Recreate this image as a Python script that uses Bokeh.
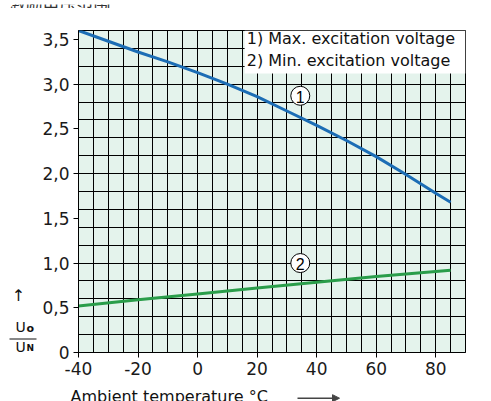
from bokeh.plotting import figure
from bokeh.models import (FixedTicker, Label, BoxAnnotation, Arrow, NormalHead,
                          Range1d, ColumnDataSource)
from bokeh.layouts import column, row
from bokeh.core.properties import value
from bokeh.embed import file_html
from bokeh.resources import INLINE
import numpy as np

# Output voltage ratio Uo/UN versus ambient temperature
temp_max = [-40, -30, -20, -10, 0, 10, 20, 30, 40, 50, 60, 70, 80, 85]
ratio_max = [3.60, 3.48, 3.36, 3.25, 3.13, 3.00, 2.86, 2.70, 2.54, 2.37, 2.19, 1.99, 1.78, 1.68]

temp_min = [-40, -20, 0, 20, 40, 60, 85]
ratio_min = [0.52, 0.59, 0.655, 0.72, 0.785, 0.85, 0.92]

x_ticks = [-40, -20, 0, 20, 40, 60, 80]
x_tick_labels = ["-40", "-20", "0", "20", "40", "60", "80"]
y_ticks = [0, 0.5, 1.0, 1.5, 2.0, 2.5, 3.0, 3.5]
y_tick_labels = ["0", "0,5", "1,0", "1,5", "2,0", "2,5", "3,0", "3,5"]

legend_lines = ["1) Max. excitation voltage", "2) Min. excitation voltage"]
curve_ids = ["1", "2"]
curve_id_x = [34.5, 34.5]
curve_id_y = [2.87, 1.0]

title_text = "激励电压范围"
x_caption = "Ambient temperature °C"

FONT = "DejaVu Sans"
BLUE = "#1c6db5"
GREEN = "#2a9d4a"
INK = "#111111"

W, H = 491, 401
TOP_H = 8          # strip holding the (cropped) title
LEFT_W = 37        # strip holding the y caption
BOTTOM_H = 16      # strip holding the x caption
MAIN_H = H - TOP_H - BOTTOM_H
FRAME_TOP, FRAME_BOTTOM = 30, 352   # page rows of the plotting area
BORDER_TOP = FRAME_TOP - TOP_H
BORDER_BOTTOM = TOP_H + MAIN_H - FRAME_BOTTOM


def text_strip(width, height, y0, y1, top=0, bottom=0):
    # blank figure whose data units are page pixels, y pointing down
    f = figure(width=width, height=height, output_backend="svg",
               toolbar_location=None, x_axis_type=None, y_axis_type=None,
               x_range=Range1d(0, width), y_range=Range1d(y1, y0),
               min_border_left=0, min_border_right=0,
               min_border_top=top, min_border_bottom=bottom,
               outline_line_color=None)
    f.grid.visible = False
    f.background_fill_color = "white"
    f.border_fill_color = "white"
    return f


# ---- main chart -----------------------------------------------------------
p = figure(width=W - LEFT_W, height=MAIN_H, output_backend="svg",
           toolbar_location=None,
           x_range=Range1d(-40, 90), y_range=Range1d(0, 3.6),
           min_border_left=78 - LEFT_W, min_border_right=26,
           min_border_top=BORDER_TOP, min_border_bottom=BORDER_BOTTOM)

p.background_fill_color = "#e4f3ec"
p.border_fill_color = "white"
p.outline_line_color = "black"
p.outline_line_width = 1

# grid: 5 degree / 0.2 steps
p.xgrid.ticker = FixedTicker(ticks=list(np.arange(-40, 91, 5)))
p.ygrid.ticker = FixedTicker(ticks=list(np.round(np.arange(0, 3.61, 0.2), 2)))
for g in (p.xgrid, p.ygrid):
    g.grid_line_color = "black"
    g.grid_line_width = 1
    g.grid_line_alpha = 1

p.xaxis.ticker = FixedTicker(ticks=x_ticks)
p.xaxis.major_label_overrides = dict(zip(x_ticks, x_tick_labels))
p.yaxis.ticker = FixedTicker(ticks=y_ticks)
p.yaxis.major_label_overrides = dict(zip(y_ticks, y_tick_labels))
for ax in (p.xaxis, p.yaxis):
    ax.major_tick_out = 5
    ax.major_tick_in = 0
    ax.minor_tick_line_color = None
    ax.major_tick_line_color = "black"
    ax.axis_line_color = "black"
    ax.major_label_text_font = FONT
    ax.major_label_text_font_size = "17px"
    ax.major_label_text_color = "#1a1a1a"
    ax.major_label_standoff = 4

# legend box
p.add_layout(BoxAnnotation(left=15.8, right=90, bottom=3.12, top=3.6,
                           fill_color="white", fill_alpha=1, line_color=None))
for i, txt in enumerate(legend_lines):
    p.add_layout(Label(x=16.5, y=3.505 - i * 0.245, text=txt, text_font=FONT,
                       text_font_size="16px", text_color=INK,
                       text_baseline="middle"))

p.line(temp_max, ratio_max, line_color=BLUE, line_width=3)
p.line(temp_min, ratio_min, line_color=GREEN, line_width=3)

# curve numbers in circles
src = ColumnDataSource(dict(x=curve_id_x, y=curve_id_y, t=curve_ids))
p.scatter("x", "y", source=src, size=19, fill_color="white",
          line_color="black", line_width=1)
p.text("x", "y", text="t", source=src, text_align="center",
       text_baseline="middle", text_font=value("Liberation Sans"),
       text_font_size="16px", text_color="black", y_offset=1)

# ---- title strip (text runs off the top edge) -----------------------------
top = text_strip(W, TOP_H, 0, TOP_H)
top.add_layout(Label(x=8, y=-1, text=title_text, text_font="Noto Sans CJK SC",
                     text_font_size="17px", text_color="#333333",
                     text_baseline="alphabetic"))

# ---- y caption: arrow and Uo / UN fraction --------------------------------
# same borders as the chart, so its drawing area spans page rows 30..352
left = text_strip(LEFT_W, MAIN_H, FRAME_TOP, FRAME_BOTTOM,
                  top=BORDER_TOP, bottom=BORDER_BOTTOM)


def caption(x, y, text, size, bold=False):
    left.add_layout(Label(x=x, y=y, text=text, text_font=FONT,
                          text_font_size=size, text_color=INK,
                          text_font_style="bold" if bold else "normal",
                          text_baseline="middle"))


left.add_layout(Label(x=18, y=295, text="↑", text_font=FONT,
                      text_font_size="16px", text_color=INK,
                      text_align="center", text_baseline="middle"))
caption(15, 326.5, "U", "14px")
caption(26, 327.5, "o", "11px", bold=True)
left.segment(x0=[9], y0=[338.5], x1=[36], y1=[338.5], line_color=INK,
             line_width=1)
caption(15, 346, "U", "14px")
caption(26, 347, "N", "9px", bold=True)

# ---- x caption with arrow (cropped by the bottom edge) --------------------
y_cap = H - BOTTOM_H
bottom = text_strip(W, BOTTOM_H, y_cap, H)
bottom.add_layout(Label(x=70, y=396, text=x_caption, text_font=FONT,
                        text_font_size="16px", text_color=INK,
                        text_baseline="middle"))
bottom.add_layout(Arrow(x_start=297, y_start=397.7, x_end=339, y_end=397.7,
                        line_color="#444444", line_width=1.5,
                        end=NormalHead(size=7, fill_color="#444444",
                                       line_color="#444444")))

layout = column(top, row(left, p, spacing=0), bottom, spacing=0)

open("out.html", "w").write(file_html(layout, INLINE))
